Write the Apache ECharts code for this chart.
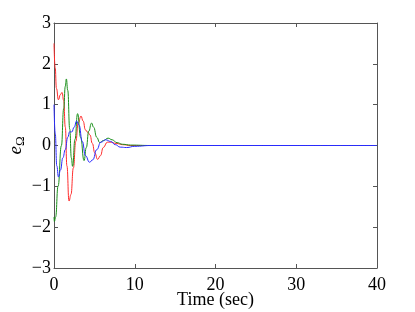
<!DOCTYPE html>
<html>
<head>
<meta charset="utf-8">
<script src="https://cdn.jsdelivr.net/npm/echarts@6/dist/echarts.min.js"></script>
<style>
  html, body { margin: 0; padding: 0; background: #fff; }
  #chart { width: 415px; height: 312px; }
</style>
</head>
<body>
<div id="chart"></div>
<script>
// time (sec) and error values
const redTime = [0, 0.15, 0.3, 0.55, 0.8, 1.0, 1.2, 1.4, 1.6, 1.86, 2.1, 2.4, 2.7, 3.0, 3.35, 3.6, 3.9, 4.2, 4.45, 4.75, 5.05, 5.4, 5.75, 6.1, 6.6, 7.1, 7.7, 8.5, 9.5, 12, 40]
const redErr = [2.5, 1.9, 1.4, 1.12, 1.25, 1.3, 1.1, 0.45, -0.5, -1.36, -1.2, -0.55, 0.1, 0.55, 0.72, 0.6, 0.38, 0.32, 0.26, 0.05, -0.18, -0.34, -0.25, -0.05, 0.08, 0.08, 0.05, 0.02, 0, 0, 0]

const greenTime = [0, 0.05, 0.2, 0.5, 0.92, 1.2, 1.4, 1.53, 1.7, 1.95, 2.15, 2.3, 2.6, 2.92, 3.3, 3.72, 4.0, 4.3, 4.65, 4.9, 5.3, 5.66, 6.1, 6.7, 7.2, 7.8, 8.5, 9.5, 12, 40]
const greenErr = [-1.75, -1.86, -1.75, -1.0, 0, 0.9, 1.45, 1.63, 1.35, 0.4, -0.3, -0.51, 0.15, 0.78, 0.2, -0.37, -0.05, 0.35, 0.55, 0.45, 0.2, 0.07, 0.12, 0.18, 0.14, 0.07, 0.03, 0.01, 0, 0]

const blueTime = [0, 0.15, 0.35, 0.55, 0.8, 1.1, 1.4, 1.7, 1.95, 2.2, 2.5, 2.8, 3.1, 3.5, 3.9, 4.4, 4.8, 5.3, 5.8, 6.4, 7.0, 7.6, 8.2, 9.0, 10, 12, 40]
const blueErr = [1.0, 0.3, -0.5, -0.77, -0.6, -0.3, -0.1, 0.2, 0.34, 0.33, 0.45, 0.6, 0.5, 0.1, -0.25, -0.41, -0.35, -0.1, 0.08, 0.14, 0.1, 0.02, -0.04, -0.05, -0.02, 0, 0]

const xTicks = [0, 10, 20, 30, 40]
const yTicks = [-3, -2, -1, 0, 1, 2, 3]

const font = 'Liberation Serif'
const axisColor = '#555'

function pairs(ts, vs) {
  return ts.map((t, i) => [t, vs[i]])
}

function frameAxis(extra) {
  return Object.assign({
    type: 'value',
    axisLine: { show: true, onZero: false, lineStyle: { color: axisColor, width: 1 } },
    axisTick: { show: true, inside: true, length: 4, lineStyle: { color: axisColor } },
    splitLine: { show: false },
    axisLabel: { show: false }
  }, extra)
}

const chart = echarts.init(document.getElementById('chart'))

chart.setOption({
  animation: false,
  grid: { left: 54, right: 38, top: 23, bottom: 44, containLabel: false, outerBoundsMode: 'none' },
  xAxis: [
    frameAxis({
      min: xTicks[0], max: xTicks[xTicks.length - 1], interval: 10,
      position: 'bottom',
      axisLabel: { show: true, color: '#000', fontFamily: font, fontSize: 18, margin: 8 },
      name: 'Time (sec)',
      nameLocation: 'middle',
      nameGap: 23,
      nameMoveOverlap: false,
      nameTextStyle: { color: '#000', fontFamily: font, fontSize: 18 }
    }),
    frameAxis({ min: 0, max: 40, interval: 10, position: 'top' })
  ],
  yAxis: [
    frameAxis({
      min: yTicks[0], max: yTicks[yTicks.length - 1], interval: 1,
      position: 'left',
      axisLabel: {
        show: true, color: '#000', fontFamily: font, fontSize: 18, margin: 3,
        formatter: v => (v < 0 ? '\u2212' + Math.abs(v) : String(v))
      },
      name: '{e|e}{s|Ω}',
      nameLocation: 'middle',
      nameGap: 27,
      nameMoveOverlap: false,
      nameTextStyle: {
        rich: {
          e: { fontFamily: font, fontStyle: 'italic', fontSize: 19, color: '#000' },
          s: { fontFamily: font, fontSize: 13, color: '#000', padding: [10, 0, 0, 0] }
        }
      }
    }),
    frameAxis({ min: -3, max: 3, interval: 1, position: 'right' })
  ],
  series: [
    {
      type: 'line', name: 'e1', data: pairs(redTime, redErr),
      smooth: 0.5, smoothMonotone: 'x', showSymbol: false,
      lineStyle: { color: '#ff2a2a', width: 1 }
    },
    {
      type: 'line', name: 'e2', data: pairs(greenTime, greenErr),
      smooth: 0.5, smoothMonotone: 'x', showSymbol: false,
      lineStyle: { color: '#1a8f1a', width: 1 }
    },
    {
      type: 'line', name: 'e3', data: pairs(blueTime, blueErr),
      smooth: 0.5, smoothMonotone: 'x', showSymbol: false,
      lineStyle: { color: '#2a2aff', width: 1 }
    }
  ]
})
</script>
</body>
</html>
